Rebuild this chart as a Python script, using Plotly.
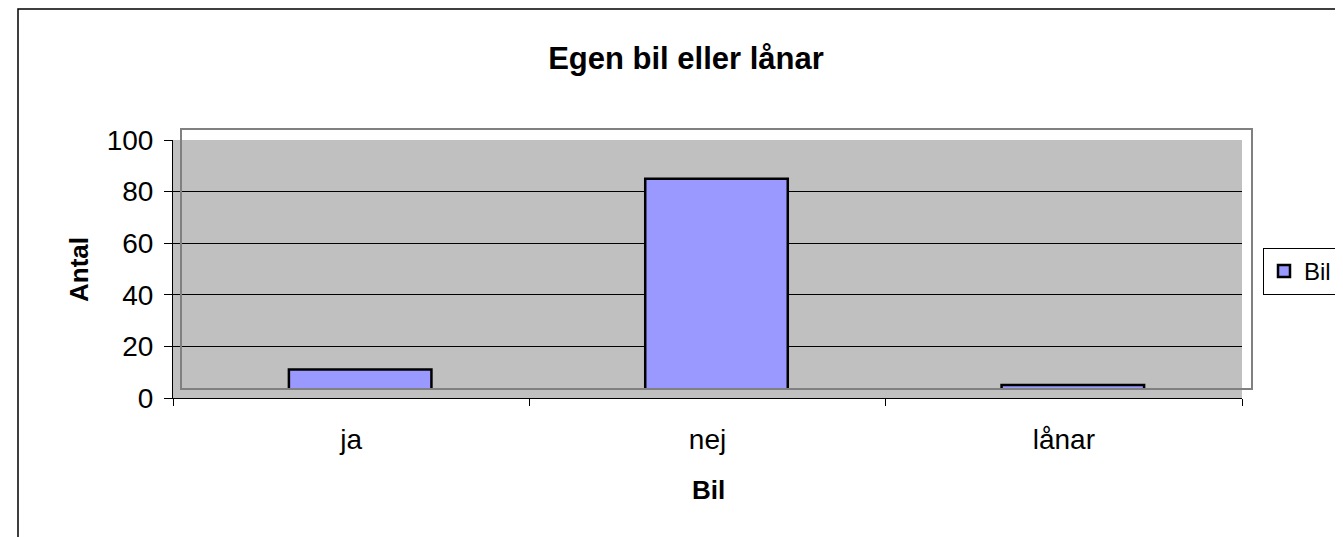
import plotly.graph_objects as go

# ---- data ----
categories = ["ja", "nej", "lånar"]
antal = [11, 85, 5]
series_name = "Bil"
title_text = "Egen bil eller lånar"
x_title = "Bil"
y_title = "Antal"

W, H = 1343, 537
FONT = "Arial, 'Liberation Sans', sans-serif"
PAGE = 8  # default body margin of the page

# plot-area geometry (pixels in the screenshot)
L, R, T, B = 173, 1242, 140, 398
DX, DY = 9, 10  # shift of the "front" frame

def px_x(p):
    return (p - PAGE) / W

def px_y(p):
    return 1 - (p - PAGE) / H

y_range = [0, 100]
scale = (B - T) / (y_range[1] - y_range[0])
y_off = DY / scale

fig = go.Figure()

# invisible trace that carries the category axis of the main subplot
fig.add_trace(go.Bar(x=categories, y=antal, xaxis="x", yaxis="y",
                     marker=dict(color="rgba(0,0,0,0)", line=dict(width=0)),
                     opacity=0, showlegend=False, hoverinfo="skip"))

# visible bars on the shifted frame
fig.add_trace(go.Bar(x=categories, y=antal, xaxis="x2", yaxis="y2",
                     name=series_name, width=0.4,
                     marker=dict(color="#9999FF", line=dict(color="#000000", width=2.5))))

fig.update_layout(
    width=W, height=H,
    margin=dict(l=0, r=0, t=0, b=0, autoexpand=False),
    paper_bgcolor="white",
    plot_bgcolor="rgba(0,0,0,0)",
    font=dict(family=FONT, color="#000000"),
    title=dict(text="<b>" + title_text + "</b>", x=px_x(686), xanchor="center",
               y=px_y(58), yanchor="middle", xref="paper", yref="paper",
               font=dict(size=31, family=FONT, color="#000")),
    xaxis=dict(domain=[px_x(L), px_x(R)], type="category", range=[-0.5, 2.5],
               showline=True, linecolor="#000", linewidth=1,
               ticks="outside", tickson="boundaries", ticklen=7, tickcolor="#000",
               showgrid=False, zeroline=False, automargin=False,
               ticklabelstandoff=16,
               tickfont=dict(size=28, family=FONT, color="#000"), anchor="y"),
    yaxis=dict(domain=[px_y(B), px_y(T)], range=y_range, dtick=20,
               showline=True, linecolor="#000", linewidth=1,
               ticks="outside", ticklen=8, tickcolor="#000",
               showgrid=True, gridcolor="#000", gridwidth=1, zeroline=False,
               automargin=False, ticklabelstandoff=5,
               tickfont=dict(size=28, family=FONT, color="#000"), anchor="x"),
    xaxis2=dict(domain=[px_x(L + DX), px_x(R + DX)], type="category", range=[-0.5, 2.5],
                showline=True, mirror=True, linecolor="#808080", linewidth=2,
                showticklabels=False, ticks="", showgrid=False, zeroline=False,
                anchor="y2", layer="below traces", automargin=False),
    yaxis2=dict(domain=[px_y(B - DY), px_y(T - DY)], range=[y_range[0] + y_off, y_range[1] + y_off],
                showline=True, mirror=True, linecolor="#808080", linewidth=2,
                showticklabels=False, ticks="", showgrid=False, zeroline=False,
                anchor="x2", layer="below traces", automargin=False),
    legend=dict(x=px_x(1263), y=px_y(248), xanchor="left", yanchor="top",
                bgcolor="white", bordercolor="#000", borderwidth=1,
                font=dict(size=24, family=FONT, color="#000"),
                itemwidth=30),
    showlegend=True,
)

# gray plot background (below gridlines)
fig.add_shape(type="rect", xref="x domain", yref="y domain", x0=0, x1=1, y0=0, y1=1,
              fillcolor="#C0C0C0", line=dict(width=0), layer="below")
# outer chart border
fig.add_shape(type="rect", xref="paper", yref="paper",
              x0=px_x(18), x1=1.05, y0=-0.05, y1=px_y(9),
              line=dict(color="#000", width=1.5), fillcolor="rgba(0,0,0,0)", layer="below")

# axis titles
fig.add_annotation(text="<b>" + y_title + "</b>", xref="paper", yref="paper",
                   x=px_x(79), y=px_y(270), xanchor="center", yanchor="middle",
                   showarrow=False, textangle=-90,
                   font=dict(size=26, family=FONT, color="#000"))
fig.add_annotation(text="<b>" + x_title + "</b>", xref="paper", yref="paper",
                   x=px_x(708), y=px_y(490), xanchor="center", yanchor="middle",
                   showarrow=False,
                   font=dict(size=26, family=FONT, color="#000"))

fig.write_html("out.html")
